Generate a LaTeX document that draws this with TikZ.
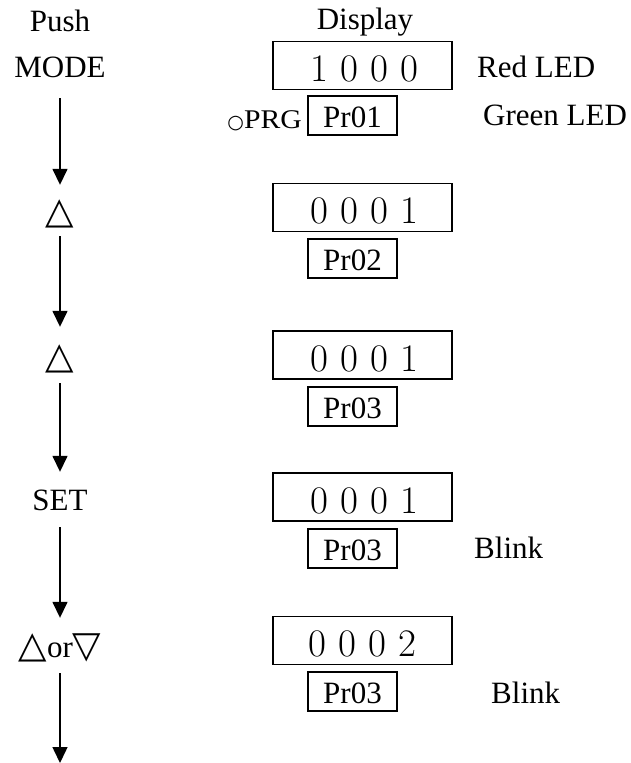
\documentclass[tikz,border=0pt]{standalone}
\usepackage{fontspec}
\setmainfont{Liberation Serif}
\newfontfamily\symf{DejaVu Sans}
\usetikzlibrary{arrows.meta}
\newcommand\lab{\fontsize{31pt}{31pt}\selectfont}
\newcommand\digf{\fontfamily{lmr}\fontsize{39pt}{39pt}\selectfont}
\newcommand\trif{\symf\fontsize{37pt}{37pt}\selectfont}
\newcommand\circf{\symf\fontsize{19pt}{19pt}\selectfont}
\newcommand\dsp{\hspace{12pt}}
\begin{document}
\begin{tikzpicture}[x=1pt,y=-1pt,
  lbl/.style={font=\lab, inner sep=0pt, text height=21pt, text depth=0pt, anchor=base},
  rlbl/.style={font=\lab, inner sep=0pt, anchor=base west},
  bigbox/.style={draw, line width=1.2pt, minimum width=179pt, minimum height=48pt, inner sep=0pt, font=\digf, text height=32pt, text depth=0pt},
  prbox/.style={draw, line width=1.2pt, minimum width=89pt, minimum height=39pt, inner sep=0pt, font=\lab, text height=23pt, text depth=0pt},
  arr/.style={line width=1.5pt, -{Triangle[width=15pt,length=16pt]}}
]
\useasboundingbox (0,0) rectangle (631,763);

% headers
\node[lbl] (push) at (60,31) {Push};
\node[lbl] (disp) at (365,29) {Display};

% left column
\node[lbl] (mode) at (60,77) {MODE};
\node[lbl] (t1) at (60,223) {\trif △};
\node[lbl] (t2) at (60,368) {\trif △};
\node[lbl] (set) at (60,510) {SET};
\node[lbl] (t3) at (60,657) {{\trif △}or{\trif ▽}};
\coordinate (endc) at (60,763);

\draw[arr, shorten <=21pt, shorten >=17pt] (mode.south) -- (t1.north);
\draw[arr, shorten <=13pt, shorten >=20pt] (t1.south) -- (t2.north);
\draw[arr, shorten <=15pt, shorten >=17pt] (t2.south) -- (set.north);
\draw[arr, shorten <=17pt, shorten >=18pt] (set.south) -- (t3.north);
\draw[arr, shorten <=16pt] (t3.south) -- (endc);

% display boxes
\node[bigbox] (b1) at (362.5,65.5) {\hspace{4pt}1\dsp0\dsp0\dsp0};
\node[bigbox] (b2) at (362.5,207.5) {\hspace{4pt}0\dsp0\dsp0\dsp1};
\node[bigbox] (b3) at (362.5,355) {\hspace{4pt}0\dsp0\dsp0\dsp1};
\node[bigbox] (b4) at (362.5,497) {\hspace{4pt}0\dsp0\dsp0\dsp1};
\node[bigbox] (b5) at (362.5,640.5) {0\dsp0\dsp0\dsp2};

\node[prbox] (p1) at (352.5,115.5) {Pr01\hspace{10pt}};
\node[prbox] (p2) at (352.5,258.5) {Pr02\hspace{10pt}};
\node[prbox] (p3) at (352.5,406.5) {Pr03\hspace{10pt}};
\node[prbox] (p4) at (352.5,548.5) {Pr03\hspace{10pt}};
\node[prbox] (p5) at (352.5,691.5) {Pr03\hspace{10pt}};

% right-side labels
\node[rlbl] (red) at (477,77) {Red LED};
\node[rlbl] (green) at (483,125) {Green LED};
\node[rlbl] (blink1) at (474,558) {Blink};
\node[rlbl] (blink2) at (491,703) {Blink};
\node[inner sep=0pt, anchor=base east] (prg) at (302,128)
  {{\circf ○}{\fontsize{27pt}{27pt}\selectfont\scalebox{1.1}[1]{PRG}}};
\end{tikzpicture}
\end{document}
